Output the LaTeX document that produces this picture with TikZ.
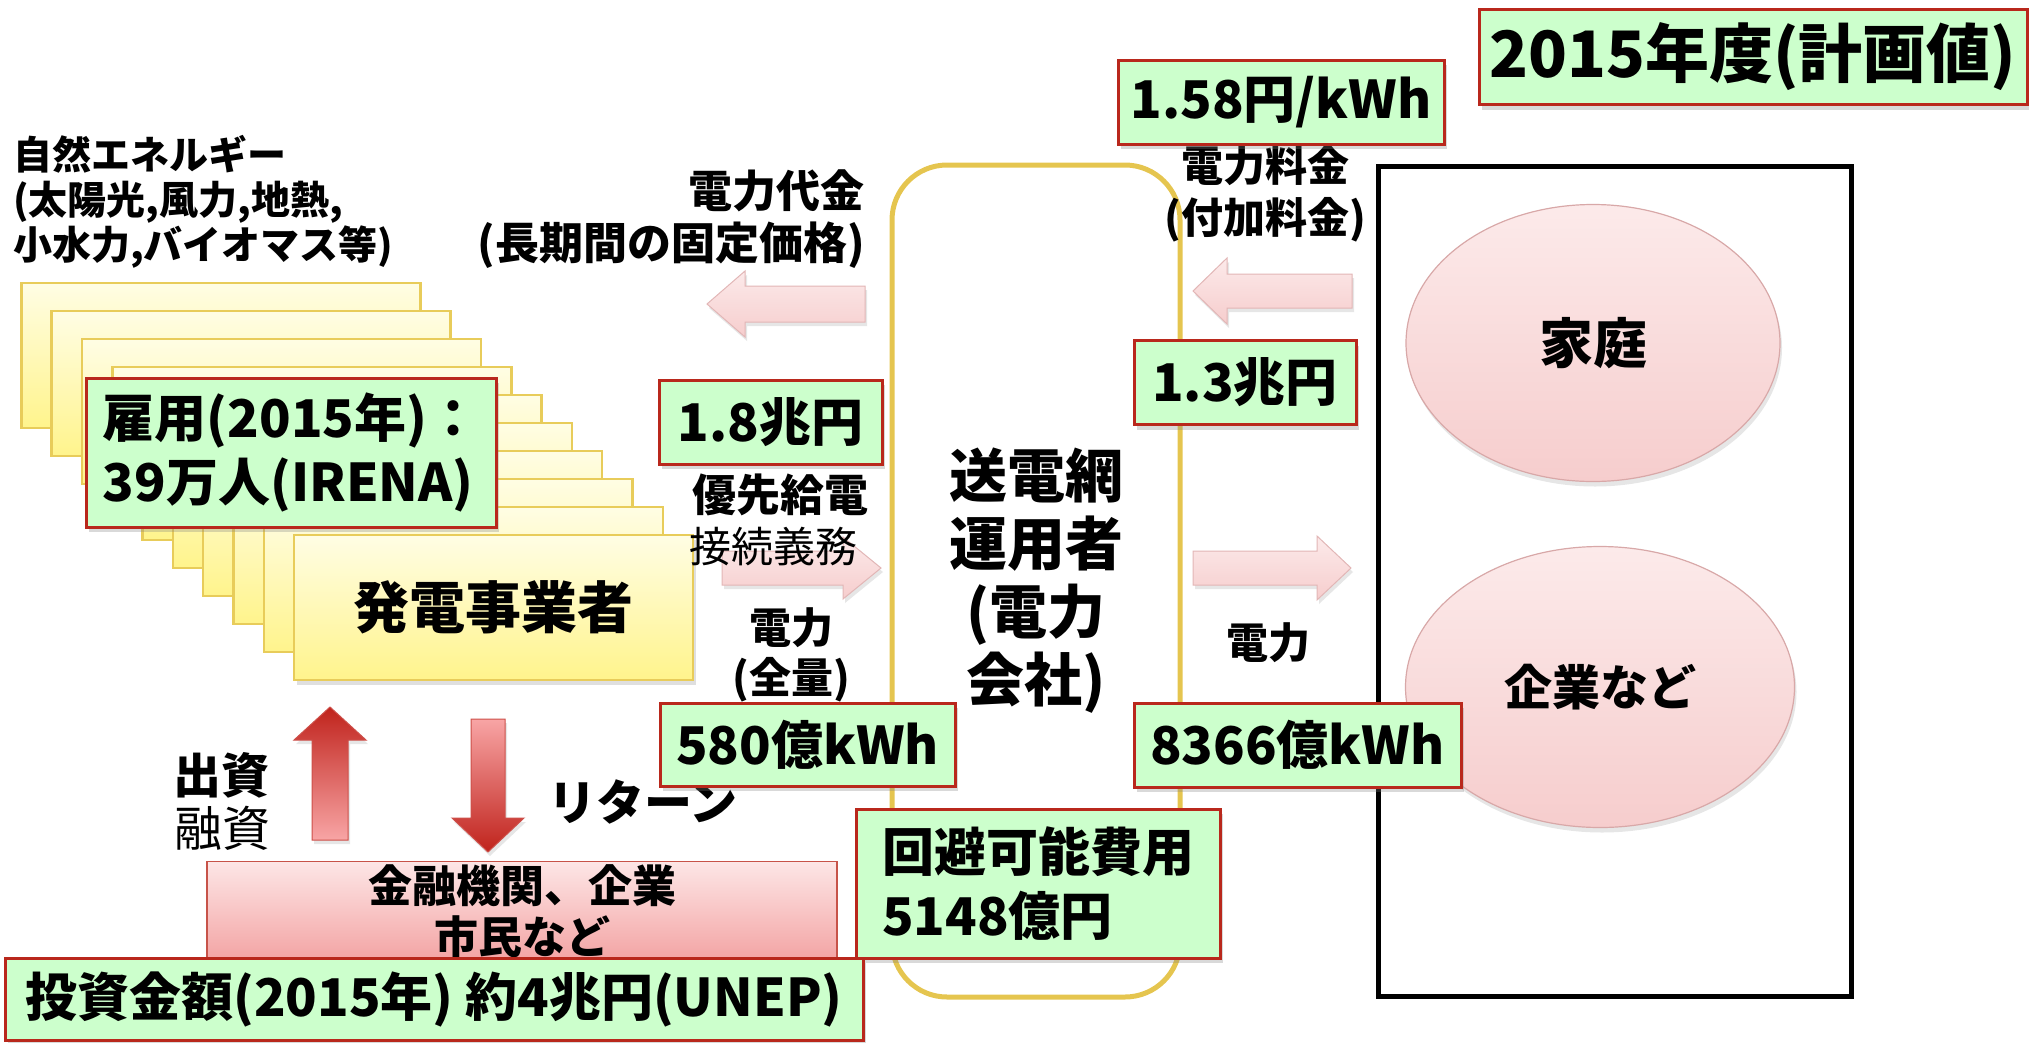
\documentclass[tikz,border=0pt]{standalone}
\usepackage{fontspec}
\setmainfont{Noto Sans CJK JP}
\usetikzlibrary{shadows,shapes.geometric}

\definecolor{boxgreen}{HTML}{CCFFCC}
\definecolor{boxred}{RGB}{185,40,28}
\definecolor{genline}{RGB}{232,204,90}
\definecolor{genlight}{RGB}{255,253,228}
\definecolor{gendark}{RGB}{255,244,140}
\definecolor{gridgold}{RGB}{229,197,79}
\definecolor{pinklight}{RGB}{252,234,234}
\definecolor{pinkdark}{RGB}{246,205,205}
\definecolor{pinkline}{RGB}{226,182,182}
\definecolor{reddark}{RGB}{192,35,28}
\definecolor{redlight}{RGB}{248,165,165}
\definecolor{ovalline}{RGB}{216,168,168}
\definecolor{fundlight}{RGB}{253,230,230}
\definecolor{funddark}{RGB}{243,163,163}

\tikzset{
  valbox/.style={draw=boxred, line width=3pt, fill=boxgreen, inner sep=0pt,
    drop shadow={shadow xshift=3pt, shadow yshift=-5pt, opacity=0.3},
    font=\bfseries\fontsize{52}{64}\selectfont},
  genbox/.style={draw=genline, line width=2.5pt, top color=genlight, bottom color=gendark},
  pinkarrow/.style={draw=pinkline, line width=1pt, top color=pinklight, bottom color=pinkdark,
    drop shadow={shadow xshift=2pt, shadow yshift=-4pt, opacity=0.2}},
  oval/.style={ellipse, draw=ovalline, line width=1.2pt, top color=pinklight, bottom color=pinkdark,
    drop shadow={shadow xshift=2pt, shadow yshift=-5pt, opacity=0.2}},
  lbl/.style={inner sep=0pt, font=\bfseries\fontsize{42}{52}\selectfont},
}

\begin{document}
\begin{tikzpicture}[x=1pt,y=-1pt]
\useasboundingbox (0,0) rectangle (2029,1042);

% stack of generators
\foreach \i in {0,...,8} {
  \draw[genbox] ({21.4+30.3*\i},{283+28*\i}) rectangle ++(399,145);
}
\node[genbox, minimum width=399pt, minimum height=145pt,
  drop shadow={shadow xshift=3pt, shadow yshift=-5pt, opacity=0.25},
  font=\bfseries\fontsize{56}{56}\selectfont] (gen) at (493.5,607.5) {発電事業者};

\node[lbl, align=left, anchor=west, font=\bfseries\fontsize{39}{45}\selectfont] (nature) at (13,202)
  {自然エネルギー\\(太陽光,風力,地熱,\\小水力,バイオマス等)};

% grid operator and consumers
\node[draw=gridgold, line width=5pt, rounded corners=55pt, minimum width=288pt, minimum height=832pt,
  align=center, font=\bfseries\fontsize{58}{68}\selectfont] (grid) at (1036,581)
  {送電網\\運用者\\(電力\\会社)};
\draw[line width=5pt] (1378,166) rectangle (1851,996);
\node[oval, minimum width=374pt, minimum height=277pt, font=\bfseries\fontsize{54}{54}\selectfont] (home) at (1593,343) {家庭};
\node[oval, minimum width=389pt, minimum height=281pt, font=\bfseries\fontsize{48}{48}\selectfont] (firm) at (1600,687) {企業など};

% money and power flows
\draw[pinkarrow] (865,286) -- (745,286) -- (745,271) -- (707,304) -- (745,337) -- (745,322) -- (865,322) -- cycle;
\draw[pinkarrow] (1352,274) -- (1227,274) -- (1227,258) -- (1193,291) -- (1227,324) -- (1227,308) -- (1352,308) -- cycle;
\draw[pinkarrow] (722,551) -- (843,551) -- (843,537) -- (881,568) -- (843,599) -- (843,585) -- (722,585) -- cycle;
\draw[pinkarrow] (1193,551) -- (1317,551) -- (1317,536) -- (1351,568) -- (1317,600) -- (1317,585) -- (1193,585) -- cycle;

% investment and return
\draw[draw=reddark!80, line width=1pt, top color=reddark, bottom color=redlight,
  drop shadow={shadow xshift=2pt, shadow yshift=-4pt, opacity=0.2}]
  (312,840) -- (312,740) -- (294,740) -- (330,707) -- (366,740) -- (348,740) -- (348,840) -- cycle;
\draw[draw=reddark!80, line width=1pt, top color=redlight, bottom color=reddark,
  drop shadow={shadow xshift=2pt, shadow yshift=-4pt, opacity=0.2}]
  (471,719) -- (505,719) -- (505,818) -- (524,818) -- (488,852) -- (452,818) -- (471,818) -- cycle;

\node[draw=boxred!80, line width=1.5pt, top color=fundlight, bottom color=funddark, minimum width=630pt,
  minimum height=93pt, align=center, font=\bfseries\fontsize{44}{51}\selectfont] (fund) at (522,911.5)
  {金融機関、企業\\市民など};

% labels
\node[lbl, align=right, anchor=east, font=\bfseries\fontsize{44}{52}\selectfont] (paylbl) at (865,219)
  {電力代金\\(長期間の固定価格)};
\node[lbl, align=center] (feelbl) at (1265,194) {電力料金\\(付加料金)};
\node[lbl, font=\bfseries\fontsize{44}{44}\selectfont] (prio) at (780,495) {優先給電};
\node[lbl, font=\fontsize{42}{42}\selectfont] (duty) at (773,547) {接続義務};
\node[lbl, align=center, font=\bfseries\fontsize{42}{50}\selectfont] (powin) at (791,655) {電力\\(全量)};
\node[lbl] (powout) at (1268,643) {電力};
\node[lbl, font=\bfseries\fontsize{48}{48}\selectfont] (equity) at (221,775) {出資};
\node[lbl, font=\fontsize{48}{48}\selectfont] (loan) at (222,828) {融資};
\node[lbl, font=\bfseries\fontsize{48}{48}\selectfont] (ret) at (643,802) {リターン};

% figures
\node[valbox, minimum width=548pt, minimum height=95pt, font=\bfseries\fontsize{64}{64}\selectfont] (year) at (1753,57) {2015年度(計画値)};
\node[valbox, minimum width=326pt, minimum height=84pt] (rate) at (1281,102) {1.58円/kWh};
\node[valbox, minimum width=223pt, minimum height=84pt] (pay) at (770.5,422) {1.8兆円};
\node[valbox, minimum width=222pt, minimum height=84pt] (fee) at (1245,382.5) {1.3兆円};
\node[valbox, minimum width=295pt, minimum height=83pt] (kwhin) at (807.5,744.5) {580億kWh};
\node[valbox, minimum width=327pt, minimum height=84pt] (kwhout) at (1297.5,745) {8366億kWh};
\node[valbox, minimum width=364pt, minimum height=149pt, align=left] (avoid) at (1038,883.5) {回避可能費用\\5148億円};
\node[valbox, minimum width=410pt, minimum height=149pt, align=left] (jobs) at (291,452.5) {雇用(2015年)：\\39万人(IRENA)};
\node[valbox, minimum width=858pt, minimum height=82pt] (invest) at (434,999) {投資金額(2015年) 約4兆円(UNEP)};
\end{tikzpicture}
\end{document}
